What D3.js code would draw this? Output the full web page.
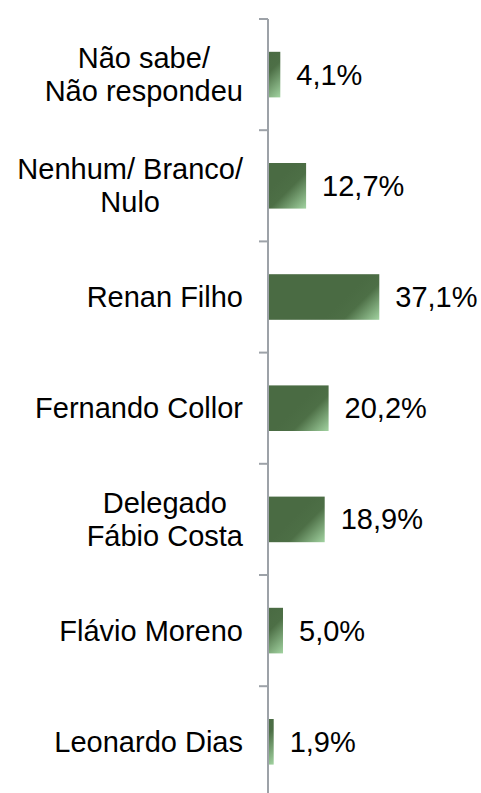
<!DOCTYPE html>
<html>
<head>
<meta charset="utf-8">
<script src="https://cdn.jsdelivr.net/npm/d3@7"></script>
<style>
  body { margin: 0; background: #fff; }
  text { font-family: "Liberation Sans", Arial, sans-serif; fill: #000; }
</style>
</head>
<body>
<div id="chart"></div>
<script>
var categories = [
    ["Não sabe/", "Não respondeu"],
    ["Nenhum/ Branco/", "Nulo"],
    ["Renan Filho"],
    ["Fernando Collor"],
    ["Delegado", "Fábio Costa"],
    ["Flávio Moreno"],
    ["Leonardo Dias"]
];
var values = [4.1, 12.7, 37.1, 20.2, 18.9, 5.0, 1.9];
var valueLabels = ["4,1%", "12,7%", "37,1%", "20,2%", "18,9%", "5,0%", "1,9%"];

var width = 481, height = 793;
var axisX = 268, plotTop = 19, band = 111.2;
var fontSize = 29, lineGap = 33;

var svg = d3.select("#chart")
    .append("svg")
        .attr("width", width)
        .attr("height", height);

var defs = svg.append("defs");

var y = d3.scaleBand()
    .domain(d3.range(values.length))
    .range([plotTop, plotTop + band * values.length])
    .paddingInner(0.59)
    .paddingOuter(0.295);

var x = d3.scaleLinear()
    .domain([0, 40])
    .range([axisX, axisX + 120]);

// gradient per bar, light corner at bottom right
values.forEach(function(d, i){
    var x2 = x(d), y2 = y(i) + y.bandwidth();
    var g = defs.append("linearGradient")
        .attr("id", "grad" + i)
        .attr("gradientUnits", "userSpaceOnUse")
        .attr("x1", x2 - 28).attr("y1", y2 - 28)
        .attr("x2", x2).attr("y2", y2);
    g.append("stop").attr("offset", 0).attr("stop-color", "#4a6b43");
    g.append("stop").attr("offset", 0.35).attr("stop-color", "#4d6f46");
    g.append("stop").attr("offset", 1).attr("stop-color", "#a2d3a1");
});

svg.append("g").selectAll("rect")
    .data(values)
    .enter()
    .append("rect")
    .attr("x", x(0))
    .attr("y", function(d, i){ return y(i); })
    .attr("width", function(d){ return x(d) - x(0); })
    .attr("height", y.bandwidth())
    .attr("fill", function(d, i){ return "url(#grad" + i + ")"; });

// axis line and ticks between categories
var tickPos = d3.range(values.length + 1).map(function(i){ return plotTop + band * i; });
svg.append("line")
    .attr("x1", axisX).attr("x2", axisX)
    .attr("y1", plotTop).attr("y2", height + 10)
    .attr("stroke", "#9da2a8")
    .attr("stroke-width", 2);
svg.append("g").selectAll("line")
    .data(tickPos)
    .enter()
    .append("line")
    .attr("x1", axisX - 9).attr("x2", axisX)
    .attr("y1", function(d){ return d; })
    .attr("y2", function(d){ return d; })
    .attr("stroke", "#9da2a8")
    .attr("stroke-width", 2);

// value labels
svg.append("g").selectAll("text")
    .data(values)
    .enter()
    .append("text")
    .attr("x", function(d){ return x(d) + 16; })
    .attr("y", function(d, i){ return y(i) + y.bandwidth() / 2 + 10; })
    .attr("font-size", fontSize)
    .text(function(d, i){ return valueLabels[i]; });

// category labels: lines centred within a block that is right aligned
var labelRight = 243;
categories.forEach(function(lines, i){
    var cy = y(i) + y.bandwidth() / 2;
    var g = svg.append("g");
    var texts = lines.map(function(t, j){
        return g.append("text")
            .attr("font-size", fontSize)
            .attr("text-anchor", "middle")
            .attr("y", cy + (j - (lines.length - 1) / 2) * lineGap + 10)
            .text(t);
    });
    var w = d3.max(texts, function(t){ return t.node().getComputedTextLength(); });
    texts.forEach(function(t){ t.attr("x", labelRight - w / 2); });
});
</script>
</body>
</html>
